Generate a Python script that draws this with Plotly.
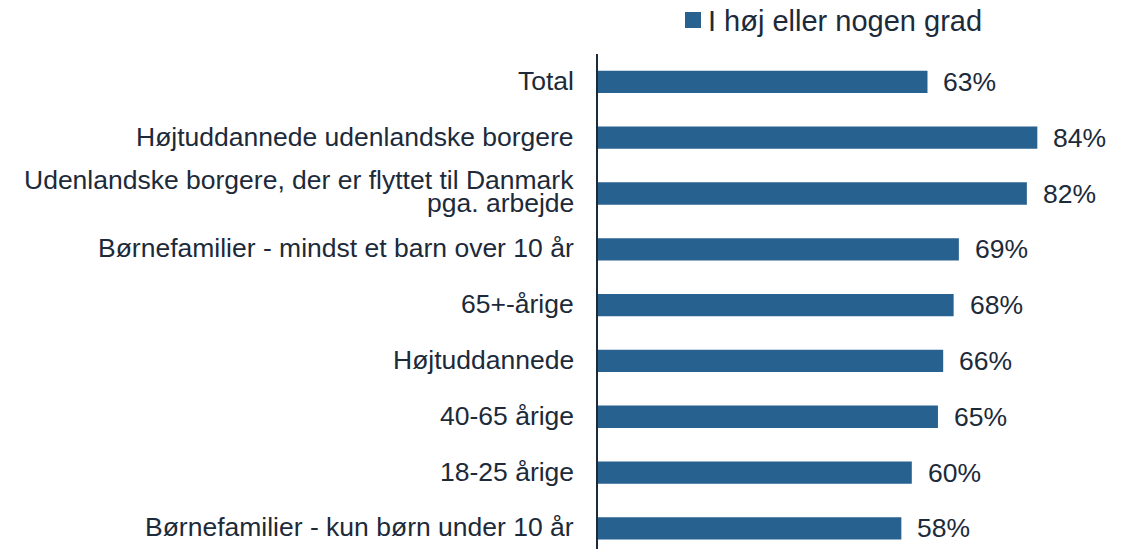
import plotly.graph_objects as go

categories = [
    "Total",
    "Højtuddannede udenlandske borgere",
    "Udenlandske borgere, der er flyttet til Danmark<br>pga. arbejde",
    "Børnefamilier - mindst et barn over 10 år",
    "65+-årige",
    "Højtuddannede",
    "40-65 årige",
    "18-25 årige",
    "Børnefamilier - kun børn under 10 år",
]
values = [63, 84, 82, 69, 68, 66, 65, 60, 58]
series_name = "I høj eller nogen grad"

BAR = "#27618f"
TXT = "#1c2a3a"
FONT = "Liberation Sans, Arial, sans-serif"

OFF = 8  # page body margin
W, H = 1128 - OFF, 549 - OFF
L, R, T, B = 598 - OFF, 7, 54 - OFF, 0

fig = go.Figure()
fig.add_trace(go.Bar(
    x=values, y=list(range(len(categories))), orientation="h",
    marker=dict(color=BAR, line=dict(width=0)),
    name=series_name, showlegend=False, hoverinfo="skip",
))

LBL = 26.5
annotations = []
for i, (c, v) in enumerate(zip(categories, values)):
    lines = c.split("<br>")
    if len(lines) == 1:
        annotations.append(dict(x=0, xref="paper", y=i, yref="y", text=c,
                                xanchor="right", yanchor="middle", xshift=-22, yshift=1,
                                showarrow=False, font=dict(size=LBL, color=TXT, family=FONT)))
    else:
        shifts = [14, -9]
        for ln, s in zip(lines, shifts):
            annotations.append(dict(x=0, xref="paper", y=i, yref="y", text=ln,
                                    xanchor="right", yanchor="middle", xshift=-22, yshift=s,
                                    showarrow=False, font=dict(size=LBL, color=TXT, family=FONT)))
    annotations.append(dict(x=v, xref="x", y=i, yref="y", text=f"{v}%",
                            xanchor="left", yanchor="middle", xshift=14, yshift=0,
                            showarrow=False, font=dict(size=LBL, color=TXT, family=FONT)))

# legend (manual), positions in screen pixels
pw = W - L - R
ph = H - T - B
def px_x(p):
    return (p - OFF - L) / pw
def px_y(p):
    return 1 - (p - OFF - T) / ph

annotations.append(dict(x=px_x(706), xref="paper", y=px_y(21), yref="paper", text=series_name,
                        xanchor="left", yanchor="middle", showarrow=False,
                        font=dict(size=29, color=TXT, family=FONT)))

fig.update_layout(
    width=W, height=H,
    margin=dict(l=L, r=R, t=T, b=B, pad=0),
    paper_bgcolor="white", plot_bgcolor="white",
    bargap=0.6,
    showlegend=False,
    xaxis=dict(range=[0, 100], visible=False, fixedrange=True),
    yaxis=dict(range=[8.37, -0.5], showticklabels=False, ticks="", showgrid=False,
               zeroline=False, showline=True, linecolor="#1c2b3a", linewidth=2,
               fixedrange=True),
    annotations=annotations,
    shapes=[dict(type="rect", xref="paper", yref="paper",
                 x0=px_x(685), x1=px_x(701), y0=px_y(28), y1=px_y(12),
                 fillcolor=BAR, line=dict(width=0))],
)

fig.write_html("out.html")
